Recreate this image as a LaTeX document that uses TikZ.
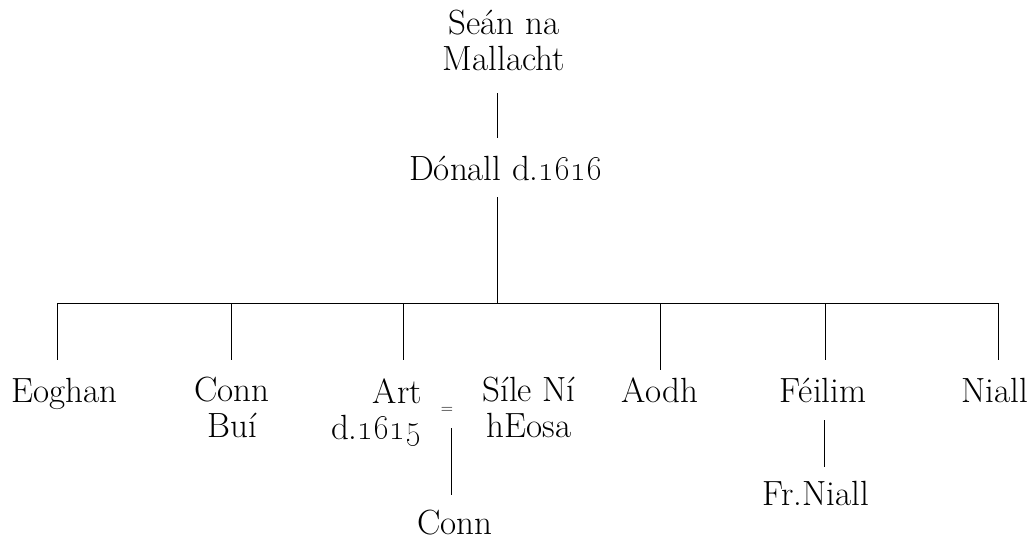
\documentclass[tikz,border=0pt]{standalone}
\begin{document}
\begin{tikzpicture}[x=1pt,y=-1pt,
  person/.style={inner sep=0pt,anchor=base,align=center,
    font=\fontsize{35}{36}\selectfont},
  link/.style={draw=black,line width=0.9pt}]
\useasboundingbox (0,0) rectangle (1029,539);

% people (base anchor of a two-line node is its last line)
\node[person] (sean)   at (504,70)  {Seán na\\Mallacht};
\node[person] (donall) at (506,180) {Dónall d.\oldstylenums{1616}};
\node[person] (eoghan) at (64,402)  {Eoghan};
\node[person] (connbui) at (232,437) {Conn\\Buí};
\node[person,anchor=base east,align=right] (art) at (422,439) {Art\\d.\oldstylenums{1615}};
\node[person] (sile)   at (529,437) {Síle Ní\\hEosa};
\node[person] (aodh)   at (660,402) {Aodh};
\node[person] (feilim) at (823,402) {Féilim};
\node[person,anchor=base east] (niall) at (1028,402) {Niall};
\node[person] (frniall) at (816,505) {Fr.Niall};
\node[person] (conn)   at (455,534) {Conn};
\node[inner sep=0pt,font=\fontsize{17}{17}\selectfont] (marr) at (447,410) {=};

% descent lines
\coordinate (top) at (497,93);
\coordinate (mid) at (497,138);
\coordinate (trunk) at (497,197);
\coordinate (bus) at (497,303);
\draw[link] (top) -- (mid);
\draw[link] (trunk) -- (bus);
\draw[link] (bus -| 57,0) -- (bus -| 998,0);

\foreach \x/\y in {57/360,231/360,403/360,660/370,825/360,998/360}
  \draw[link] (\x,303) -- (\x,\y);

\coordinate (artline) at (451,428);
\draw[link] (artline) -- (451,495);
\draw[link] (824,420) -- (824,467);
\end{tikzpicture}
\end{document}
